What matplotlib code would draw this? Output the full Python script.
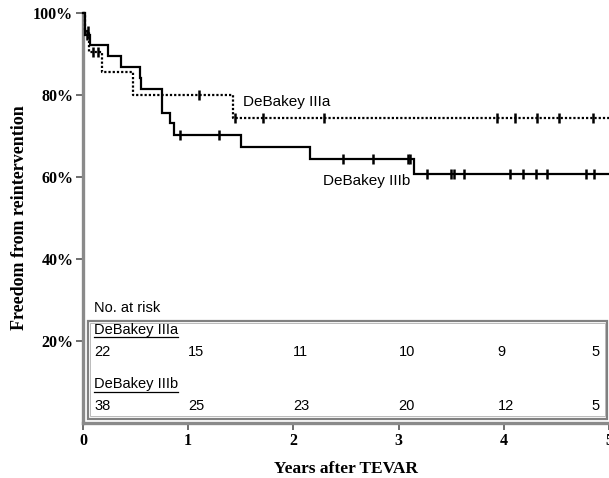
import matplotlib
matplotlib.use("Agg")
import matplotlib.pyplot as plt
from matplotlib.patches import Rectangle
from matplotlib.lines import Line2D

# ---------------- data ----------------
# DeBakey IIIa (dotted)
a_times = [0.0, 0.02, 0.06, 0.18, 0.48, 1.43]
a_surv = [1.0, 0.955, 0.906, 0.855, 0.800, 0.743]
a_censor = [0.05, 0.095, 0.14, 1.10, 1.445, 1.71, 2.29, 3.94, 4.11, 4.32, 4.52, 4.85]

# DeBakey IIIb (solid)
b_times = [0.0, 0.02, 0.064, 0.24, 0.36, 0.54, 0.556, 0.754, 0.827, 0.865, 1.50, 2.16, 3.146]
b_surv = [1.0, 0.947, 0.921, 0.894, 0.868, 0.841, 0.814, 0.755, 0.731, 0.702, 0.674, 0.644, 0.607]
b_censor = [0.04, 0.92, 1.29, 2.47, 2.76, 3.09, 3.11, 3.27, 3.50, 3.53, 3.62,
            4.06, 4.18, 4.31, 4.41, 4.78, 4.86]

t_end = 5.0

risk_times = [0, 1, 2, 3, 4, 5]
risk_a = [22, 15, 11, 10, 9, 5]
risk_b = [38, 25, 23, 20, 12, 5]

group_names = ["DeBakey IIIa", "DeBakey IIIb"]
yticks = [0.2, 0.4, 0.6, 0.8, 1.0]
ytick_labels = ["20%", "40%", "60%", "80%", "100%"]
xticks = [0, 1, 2, 3, 4, 5]

# ---------------- figure ----------------
W, H = 609, 478
fig = plt.figure(figsize=(W / 100, H / 100), dpi=100)
ax = fig.add_axes([83 / W, 1 - 423 / H, (W - 83) / W, (423 - 13) / H])
ax.set_xlim(0, 5)
ax.set_ylim(0, 1)

serif = "Liberation Serif"
sans = "Liberation Sans"


def step_xy(times, surv, tend):
    xs, ys = [], []
    for i, (t, s) in enumerate(zip(times, surv)):
        xs.append(t)
        ys.append(s)
        nxt = times[i + 1] if i + 1 < len(times) else tend
        xs.append(nxt)
        ys.append(s)
    return xs, ys


def surv_at(times, surv, t):
    v = surv[0]
    for ti, si in zip(times, surv):
        if ti <= t:
            v = si
    return v


xa, ya = step_xy(a_times, a_surv, t_end)
xb, yb = step_xy(b_times, b_surv, t_end)

ax.plot(xb, yb, color="black", lw=1.6, solid_joinstyle="miter", clip_on=False, zorder=3)
ax.plot(xa, ya, color="black", lw=1.6, linestyle=(0, (1.0, 0.9)), clip_on=False, zorder=3)

ax.plot(b_censor, [surv_at(b_times, b_surv, t) for t in b_censor], linestyle="none",
        marker="|", ms=7, mew=1.8, color="black", zorder=4)
ax.plot(a_censor, [surv_at(a_times, a_surv, t) for t in a_censor], linestyle="none",
        marker="|", ms=7, mew=1.8, color="black", zorder=4)

# curve labels
ax.text(1.52, 0.784, group_names[0], fontfamily=sans, fontsize=11, ha="left", va="center")
ax.text(2.28, 0.590, group_names[1], fontfamily=sans, fontsize=11, ha="left", va="center",
        bbox=dict(facecolor="white", edgecolor="none", pad=1))

# spines
for s in ["top", "right"]:
    ax.spines[s].set_visible(False)
for s in ["left", "bottom"]:
    ax.spines[s].set_color("#8a8a8a")
    ax.spines[s].set_linewidth(2.4)

ax.set_yticks(yticks)
ax.set_yticklabels(ytick_labels)
ax.set_xticks(xticks)
ax.set_xticklabels([str(x) for x in xticks])
ax.tick_params(axis="both", direction="out", length=5, width=1.2, color="#555555",
               labelsize=11.5, pad=2)
for lab in ax.get_xticklabels() + ax.get_yticklabels():
    lab.set_fontfamily(serif)
    lab.set_fontweight("bold")

ax.set_xlabel("Years after TEVAR", fontfamily=serif, fontweight="bold", fontsize=12.5, labelpad=9)
ax.set_ylabel("Freedom from reintervention", fontfamily=serif, fontweight="bold",
              fontsize=13, labelpad=4)

# risk table
box = Rectangle((0.009, 0.0098), 0.988, 0.239, transform=ax.transAxes, fill=False,
                edgecolor="#808080", lw=1.6, zorder=2)
ax.add_patch(box)
box2 = Rectangle((0.013, 0.016), 0.980, 0.228, transform=ax.transAxes, fill=False,
                 edgecolor="#b0b0b0", lw=0.6, zorder=2)
ax.add_patch(box2)

ax.text(0.105, 0.281, "No. at risk", fontfamily=sans, fontsize=10.5, ha="left", va="center")
ha_ = ax.text(0.105, 0.228, group_names[0], fontfamily=sans, fontsize=10.5, ha="left", va="center")
hb_ = ax.text(0.105, 0.094, group_names[1], fontfamily=sans, fontsize=10.5, ha="left", va="center")

offsets = [0.105, 0.0, -0.005, 0.0, -0.06, -0.17]
for t, na, nb, off in zip(risk_times, risk_a, risk_b, offsets):
    ax.text(t + off, 0.174, str(na), fontfamily=sans, fontsize=10.5, ha="left", va="center")
    ax.text(t + off, 0.042, str(nb), fontfamily=sans, fontsize=10.5, ha="left", va="center")

# underline headers
fig.canvas.draw()
r = fig.canvas.get_renderer()
for txt in (ha_, hb_):
    bb = txt.get_window_extent(renderer=r)
    y = bb.y0 - 0.5
    fig.add_artist(Line2D([bb.x0 / W, bb.x1 / W], [y / H, y / H], color="black", lw=0.9))

fig.savefig("out.png", dpi=100)
